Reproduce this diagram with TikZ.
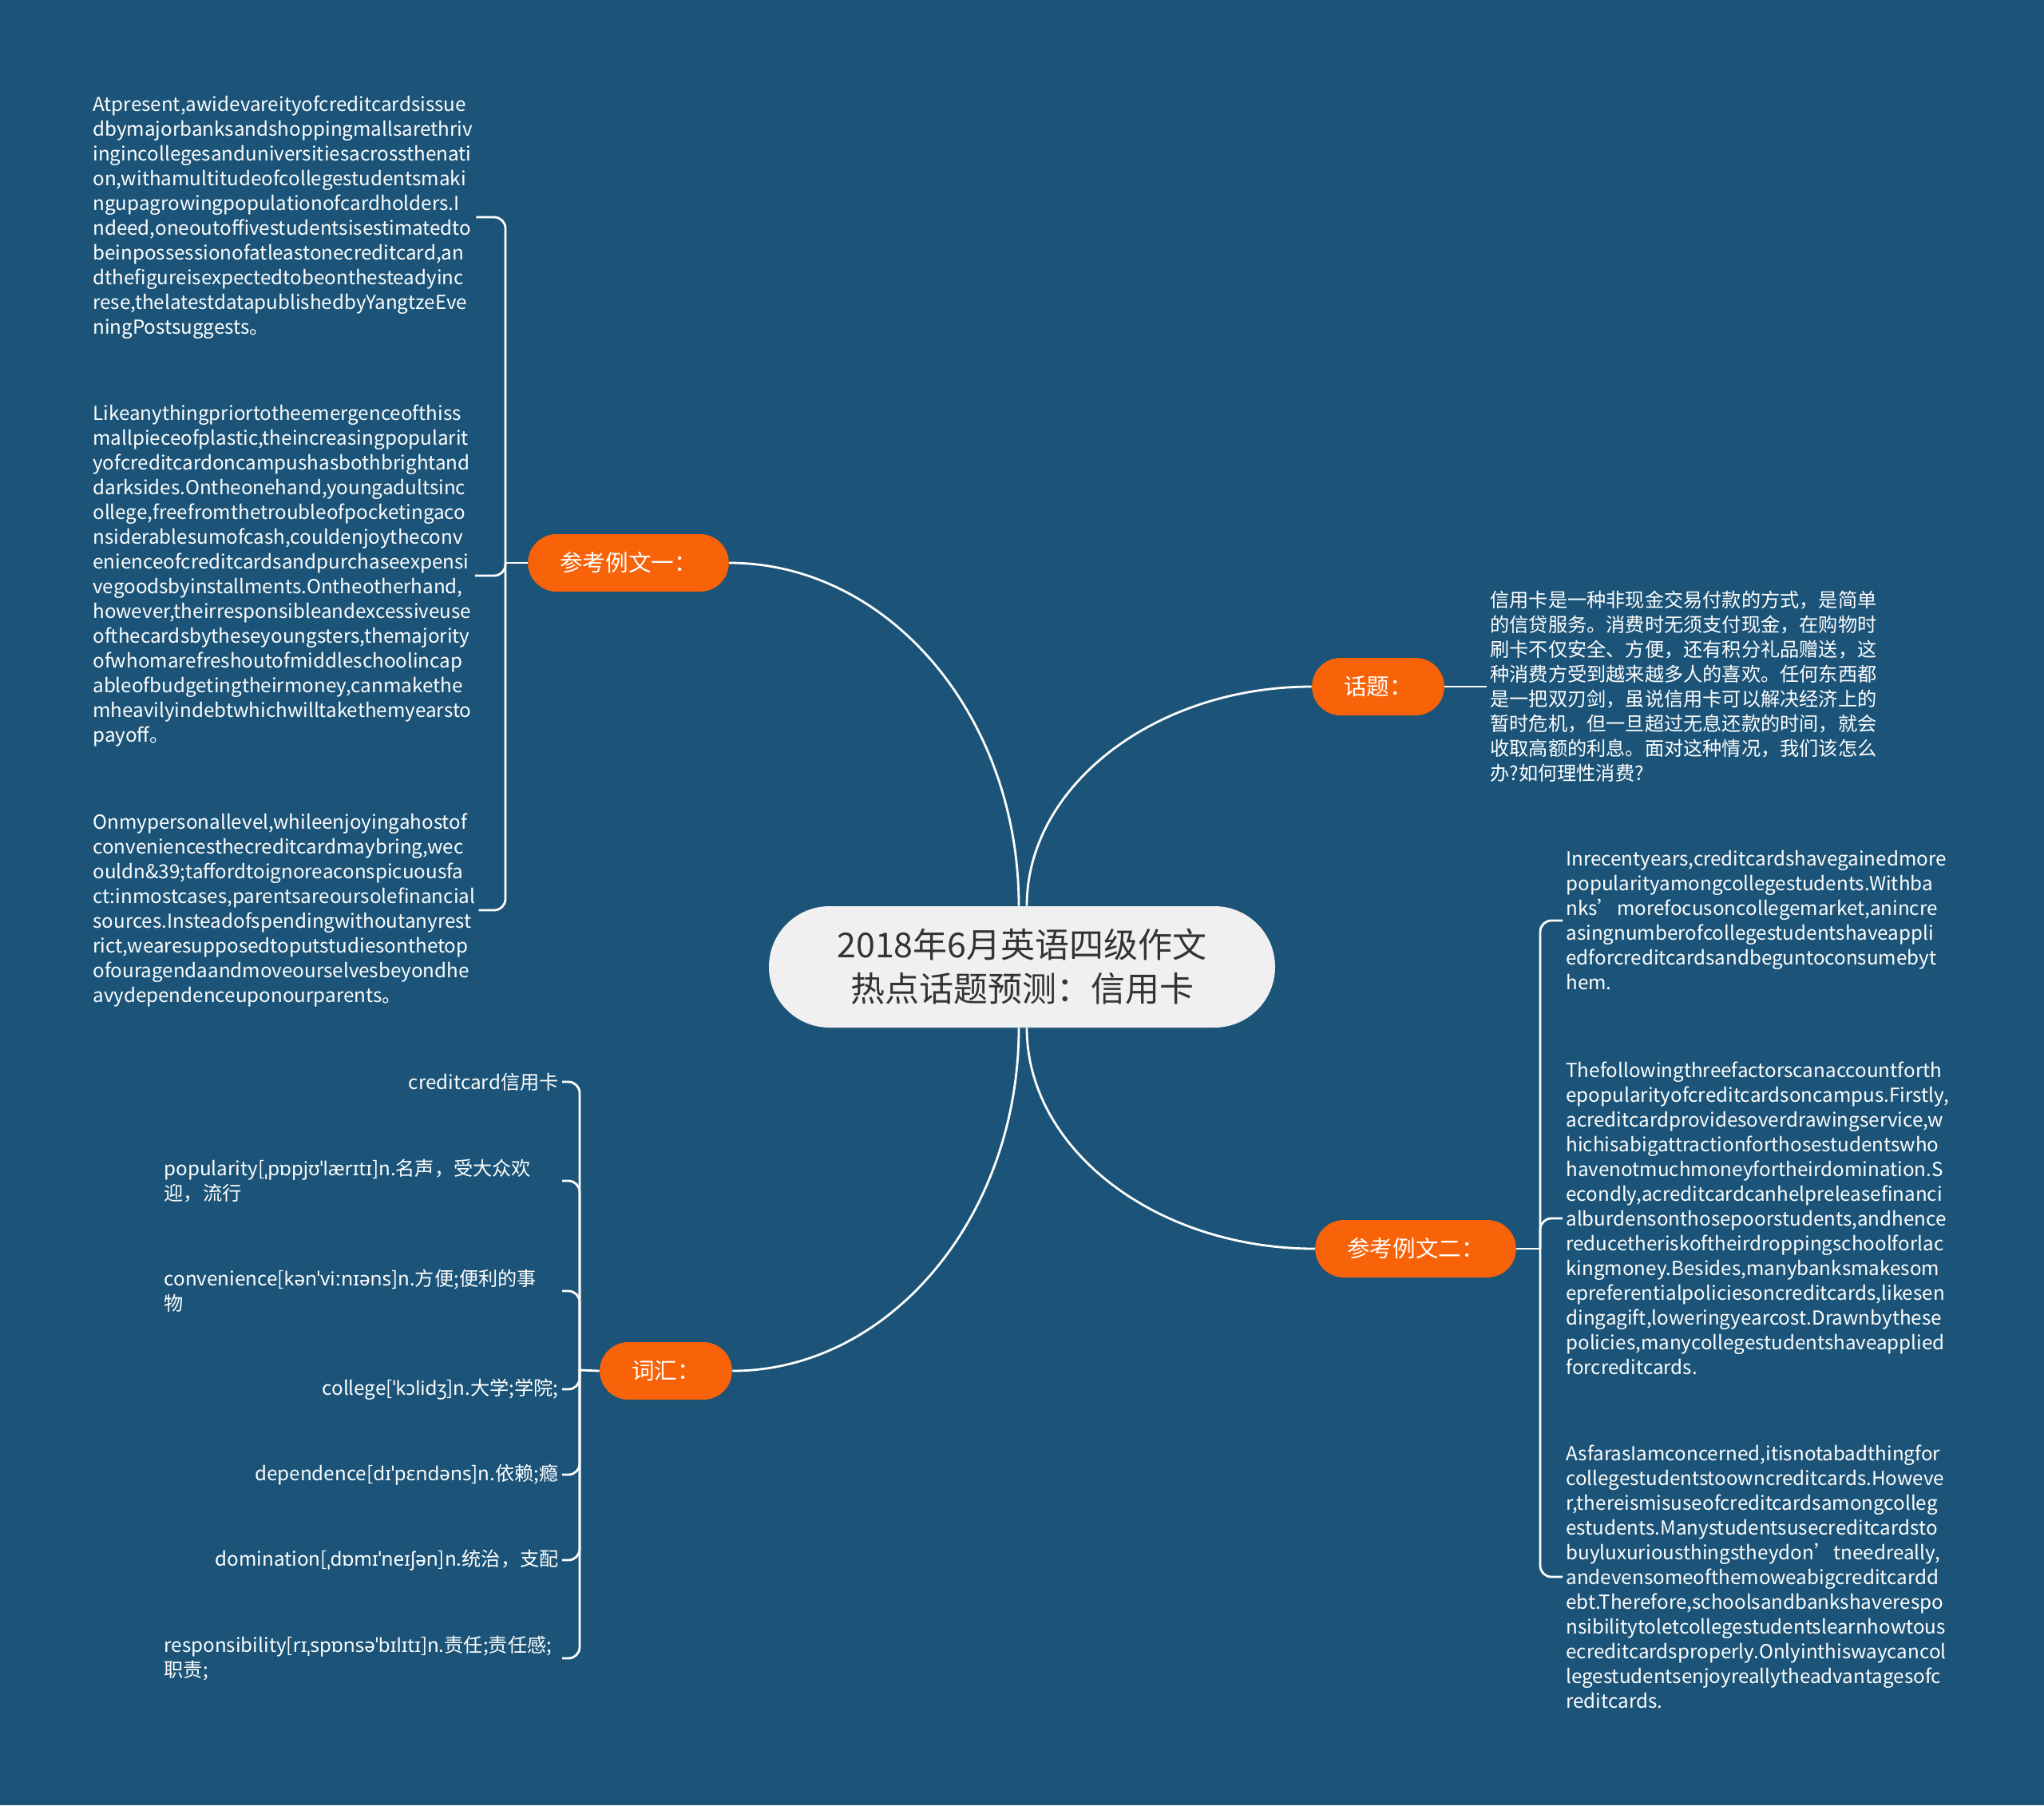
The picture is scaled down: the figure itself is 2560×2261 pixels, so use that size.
\documentclass[tikz,border=0pt]{standalone}
\usepackage{fontspec}
\setmainfont{Noto Sans CJK SC}
\newfontfamily\ipaf{Noto Sans}
\usetikzlibrary{calc}
\definecolor{bgblue}{RGB}{27,84,120}
\definecolor{topicorange}{RGB}{248,98,8}
\definecolor{rootgray}{RGB}{240,240,240}
\definecolor{roottext}{RGB}{51,51,51}
\hyphenpenalty=10000
\exhyphenpenalty=10000

\begin{document}
\begin{tikzpicture}[x=0.5pt,y=-0.5pt,
  link/.style={draw=white,line width=1.4pt},
  rootnode/.style={fill=rootgray,text=roottext,rounded corners=38pt,minimum width=317pt,minimum height=76pt,align=center,font=\fontsize{21.5pt}{27.5pt}\selectfont},
  topicnode/.style={fill=topicorange,text=white,rounded corners=18pt,minimum height=36pt,inner xsep=20pt,font=\fontsize{14.3pt}{17pt}\selectfont},
  textnode/.style={text=white,align=left,inner sep=2pt,anchor=west,font=\fontsize{12.1pt}{15.5pt}\selectfont},
  wordnode/.style={text=white,inner sep=2pt,anchor=east,text width=247pt,font=\fontsize{12.1pt}{15.5pt}\selectfont}]
  \fill[bgblue] (0,0) rectangle (2560,2261); % 背景
  \useasboundingbox (0,0) rectangle (2560,2261);

  \node[rootnode] (root) at (1280,1211) {2018年6月英语四级作文\\热点话题预测：信用卡}; % 中心
  \node[topicnode] (ref1) at (787,705) {参考例文一：}; % 左上の枝
  \node[topicnode] (topic) at (1726,860) {话题：}; % 右上の枝
  \node[topicnode] (ref2) at (1773,1564) {参考例文二：}; % 右下の枝
  \node[topicnode] (vocab) at (834,1717) {词汇：}; % 左下の枝

  \draw[link] (ref1.east) .. controls (1114,705) and (1276,898) .. ([xshift=-2pt]root.north); % 中心から左上へ
  \draw[link] (topic.west) .. controls (1447,860) and (1286,984) .. ([xshift=3pt]root.north); % 中心から右上へ
  \draw[link] (ref2.west) .. controls (1447,1564) and (1286,1439) .. ([xshift=3pt]root.south); % 中心から右下へ
  \draw[link] (vocab.east) .. controls (1114,1717) and (1276,1524) .. ([xshift=-2pt]root.south); % 中心から左下へ

  % 参考例文一の三段落
  \node[textnode] (para1) at (112,272) {Atpresent,awidevareityofcreditcardsissue\\dbymajorbanksandshoppingmallsarethriv\\ingincollegesanduniversitiesacrossthenati\\on,withamultitudeofcollegestudentsmaki\\ngupagrowingpopulationofcardholders.I\\ndeed,oneoutoffivestudentsisestimatedto\\beinpossessionofatleastonecreditcard,an\\dthefigureisexpectedtobeonthesteadyinc\\rese,thelatestdatapublishedbyYangtzeEve\\ningPostsuggests。};
  \node[textnode] (para2) at (112,721) {Likeanythingpriortotheemergenceofthiss\\mallpieceofplastic,theincreasingpopularit\\yofcreditcardoncampushasbothbrightand\\darksides.Ontheonehand,youngadultsinc\\ollege,freefromthetroubleofpocketingaco\\nsiderablesumofcash,couldenjoytheconv\\enienceofcreditcardsandpurchaseexpensi\\vegoodsbyinstallments.Ontheotherhand,\\however,theirresponsibleandexcessiveuse\\ofthecardsbytheseyoungsters,themajority\\ofwhomarefreshoutofmiddleschoolincap\\ableofbudgetingtheirmoney,canmakethe\\mheavilyindebtwhichwilltakethemyearsto\\payoff。};
  \node[textnode] (para3) at (112,1140) {Onmypersonallevel,whileenjoyingahostof\\conveniencesthecreditcardmaybring,wec\\ouldn\&39;taffordtoignoreaconspicuousfa\\ct:inmostcases,parentsareoursolefinancial\\sources.Insteadofspendingwithoutanyrest\\rict,wearesupposedtoputstudiesonthetop\\ofouragendaandmoveourselvesbeyondhe\\avydependenceuponourparents。};
  \coordinate (ref1j) at (633,705);
  \draw[link] (ref1.west) -- (ref1j); % 枝の付け根
  \draw[link,rounded corners=7pt] (ref1j) |- (para1.east);
  \draw[link,rounded corners=7pt] (ref1j) |- (para2.east);
  \draw[link,rounded corners=7pt] (ref1j) |- (para3.east);

  % 话题の説明
  \node[textnode] (topictext) at (1862,860) {信用卡是一种非现金交易付款的方式，是简单\\的信贷服务。消费时无须支付现金，在购物时\\刷卡不仅安全、方便，还有积分礼品赠送，这\\种消费方受到越来越多人的喜欢。任何东西都\\是一把双刃剑，虽说信用卡可以解决经济上的\\暂时危机，但一旦超过无息还款的时间，就会\\收取高额的利息。面对这种情况，我们该怎么\\办?如何理性消费?};
  \draw[link] (topic.east) -- (topictext.west);

  % 参考例文二の三段落
  \node[textnode] (paraA) at (1957,1153) {Inrecentyears,creditcardshavegainedmore\\popularityamongcollegestudents.Withba\\nks’morefocusoncollegemarket,anincre\\asingnumberofcollegestudentshaveappli\\edforcreditcardsandbeguntoconsumebyt\\hem.};
  \node[textnode] (paraB) at (1957,1526) {Thefollowingthreefactorscanaccountforth\\epopularityofcreditcardsoncampus.Firstly,\\acreditcardprovidesoverdrawingservice,w\\hichisabigattractionforthosestudentswho\\havenotmuchmoneyfortheirdomination.S\\econdly,acreditcardcanhelpreleasefinanci\\alburdensonthosepoorstudents,andhence\\reducetheriskoftheirdroppingschoolforlac\\kingmoney.Besides,manybanksmakesom\\epreferentialpoliciesoncreditcards,likesen\\dingagift,loweringyearcost.Drawnbythese\\policies,manycollegestudentshaveapplied\\forcreditcards.};
  \node[textnode] (paraC) at (1957,1975) {AsfarasIamconcerned,itisnotabadthingfor\\collegestudentstoowncreditcards.Howeve\\r,thereismisuseofcreditcardsamongcolleg\\estudents.Manystudentsusecreditcardsto\\buyluxuriousthingstheydon’tneedreally,\\andevensomeofthemoweabigcreditcardd\\ebt.Therefore,schoolsandbankshaverespo\\nsibilitytoletcollegestudentslearnhowtous\\ecreditcardsproperly.Onlyinthiswaycancol\\legestudentsenjoyreallytheadvantagesofc\\reditcards.};
  \coordinate (ref2j) at (1929,1564);
  \draw[link] (ref2.east) -- (ref2j);
  \draw[link,rounded corners=7pt] (ref2j) |- (paraA.west);
  \draw[link,rounded corners=7pt] (ref2j) |- (paraB.west);
  \draw[link,rounded corners=7pt] (ref2j) |- (paraC.west);

  % 词汇の七項目
  \node[wordnode,align=right] (w1) at (704,1355) {creditcard信用卡};
  \node[wordnode,align=left] (w2) at (704,1479) {popularity[{\ipaf ˌpɒpjʊˈlærɪtɪ}]n.名声，受大众欢\\迎，流行};
  \node[wordnode,align=left] (w3) at (704,1617) {convenience[{\ipaf kənˈviːnɪəns}]n.方便;便利的事\\物};
  \node[wordnode,align=right] (w4) at (704,1740) {college[{\ipaf ˈkɔlidʒ}]n.大学;学院;};
  \node[wordnode,align=right] (w5) at (704,1847) {dependence[{\ipaf dɪˈpɛndəns}]n.依赖;瘾};
  \node[wordnode,align=right] (w6) at (704,1954) {domination[{\ipaf ˌdɒmɪˈneɪʃən}]n.统治，支配};
  \node[wordnode,align=left] (w7) at (704,2077) {responsibility[{\ipaf rɪˌspɒnsəˈbɪlɪtɪ}]n.责任;责任感;\\职责;};
  \coordinate (vocabj) at (726,1716);
  \draw[link] (vocab.west) -- (vocabj);
  \foreach \w in {w1,w2,w3,w4,w5,w6,w7}
    \draw[link,rounded corners=7pt] (vocabj) |- (\w.east); % 各単語へ
\end{tikzpicture}
\end{document}
